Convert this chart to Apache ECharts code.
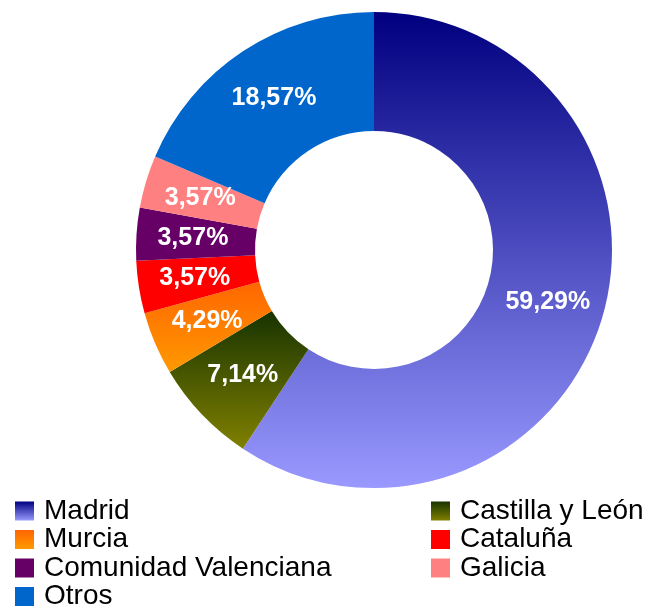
<!DOCTYPE html>
<html>
<head>
<meta charset="utf-8">
<script src="https://cdn.jsdelivr.net/npm/echarts@6/dist/echarts.min.js"></script>
<style>
html,body{margin:0;padding:0;background:#fff;}
#chart{width:655px;height:608px;}
</style>
</head>
<body>
<div id="chart"></div>
<script>
// datos
var regiones = ['Madrid', 'Castilla y León', 'Murcia', 'Cataluña', 'Comunidad Valenciana', 'Galicia', 'Otros'];
var valores = [83, 10, 6, 5, 5, 5, 26];
var legendaIzq = ['Madrid', 'Murcia', 'Comunidad Valenciana', 'Otros'];
var legendaDer = ['Castilla y León', 'Cataluña', 'Galicia'];

function grad(a, b) {
  return new echarts.graphic.LinearGradient(0, 0, 0, 1, [
    { offset: 0, color: a },
    { offset: 1, color: b }
  ], false);
}

var colores = [
  grad('#000080', '#9999ff'),
  grad('#173300', '#808000'),
  grad('#ff6600', '#ff9900'),
  '#ff0000',
  '#660066',
  '#ff8080',
  '#0066cc'
];

var total = valores.reduce(function (s, v) { return s + v; }, 0);

var myChart = echarts.init(document.getElementById('chart'));

var legendBase = {
  orient: 'vertical',
  top: 497,
  height: 130,
  padding: 0,
  icon: 'rect',
  itemWidth: 19,
  itemHeight: 19,
  itemGap: 0.5,
  selectedMode: false,
  textStyle: {
    color: '#000',
    fontFamily: 'Liberation Sans',
    fontSize: 28,
    padding: [0, 0, 0, 5]
  }
};

var option = {
  animation: false,
  legend: [
    Object.assign({}, legendBase, { left: 15, data: legendaIzq }),
    Object.assign({}, legendBase, { left: 431, data: legendaDer })
  ],
  series: [{
    type: 'pie',
    center: [374, 250],
    radius: [119, 238],
    startAngle: 90,
    clockwise: true,
    avoidLabelOverlap: false,
    itemStyle: { borderWidth: 0 },
    label: {
      show: true,
      position: 'inside',
      color: '#fff',
      fontFamily: 'Liberation Sans',
      fontWeight: 'bold',
      fontSize: 25,
      formatter: function (p) {
        return (p.value / total * 100).toFixed(2).replace('.', ',') + '%';
      }
    },
    labelLine: { show: false },
    data: regiones.map(function (n, i) {
      return { name: n, value: valores[i], itemStyle: { color: colores[i] } };
    })
  }]
};

myChart.setOption(option);
</script>
</body>
</html>
